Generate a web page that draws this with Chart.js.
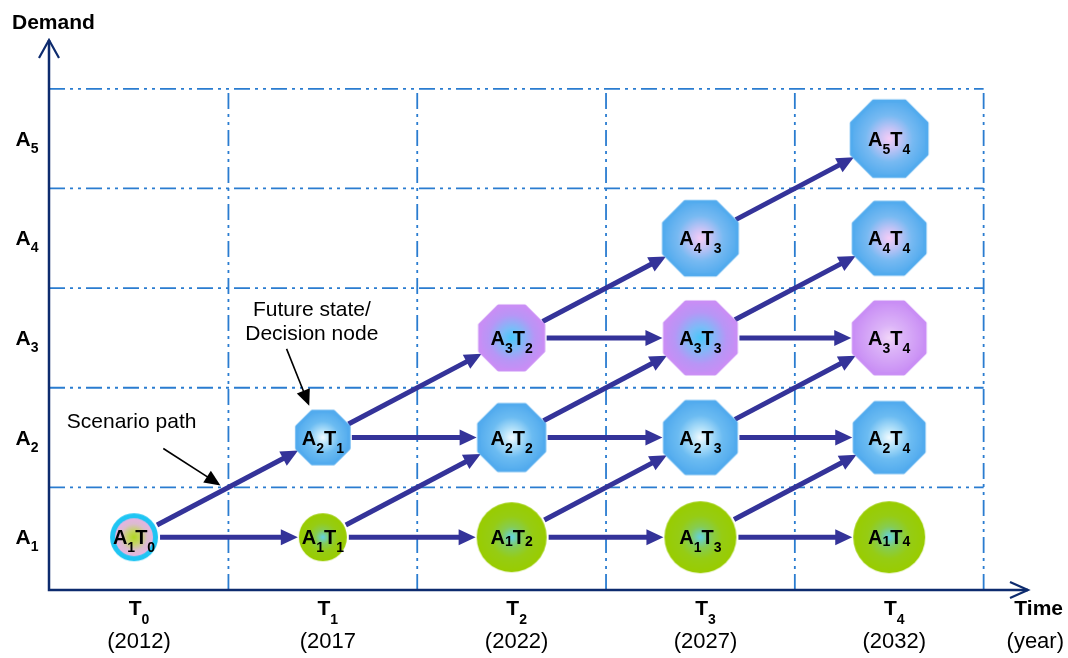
<!DOCTYPE html>
<html>
<head>
<meta charset="utf-8">
<script src="https://cdn.jsdelivr.net/npm/chart.js@4"></script>
<style>html,body{margin:0;background:#fff}</style>
</head>
<body>
<canvas id="tree" width="1068" height="658"></canvas>
<script>
// time stages and demand levels
const stages = ['T0', 'T1', 'T2', 'T3', 'T4'];
const years = ['(2012)', '(2017', '(2022)', '(2027)', '(2032)'];
const levels = ['A1', 'A2', 'A3', 'A4', 'A5'];

// decision nodes: stage index and demand level
const nodeStage = [0, 1, 1, 2, 2, 2, 3, 3, 3, 3, 4, 4, 4, 4, 4];
const nodeLevel = [1, 1, 2, 1, 2, 3, 1, 2, 3, 4, 1, 2, 3, 4, 5];

// scenario paths (node index -> node index)
const pathFrom = [0, 0, 1, 1, 2, 2, 3, 3, 4, 4, 5, 5, 6, 6, 7, 7, 8, 8, 9];
const pathTo   = [1, 2, 3, 4, 4, 5, 6, 7, 7, 8, 8, 9, 10, 11, 11, 12, 12, 13, 14];

// cell boundaries of the grid
const stageEdges = [0.5, 1.5, 2.5, 3.5, 4.5];
const levelEdges = [1.5, 2.5, 3.5, 4.5, 5.5];

// look of the nodes
const nodeKind = ['ring', 'green', 'blue', 'green', 'blue', 'purple', 'green', 'blue', 'purple', 'pink', 'green', 'blue', 'lilac', 'pink', 'pink'];
const nodeSize = [24, 24, 27, 35, 34, 33, 36, 37, 37, 38, 36, 36, 37, 37, 39];
const nodeDrop = [8, 8, 8, 2, 8, 8, 8, 8, 8, 8, 2, 8, 8, 8, 8];

const FONT = '"Liberation Sans", Arial, sans-serif';

function makeNode(kind, r) {
  const s = Math.ceil(r * 2 + 8);
  const c = document.createElement('canvas');
  c.width = c.height = s;
  const g = c.getContext('2d');
  const m = s / 2;
  const shape = (rad) => {
    g.beginPath();
    if (kind == 'ring' || kind == 'green') {
      g.arc(m, m, rad, 0, Math.PI * 2);
    } else {
      const vr = rad * 1.05;
      for (let k = 0; k < 8; k++) {
        const a = -Math.PI / 2 + Math.PI / 8 + k * Math.PI / 4;
        const px = m + vr * Math.cos(a), py = m + vr * Math.sin(a);
        k ? g.lineTo(px, py) : g.moveTo(px, py);
      }
      g.closePath();
    }
  };
  const grad = (stops, rad) => {
    const gr = g.createRadialGradient(m, m, 0, m, m, rad);
    stops.forEach(st => gr.addColorStop(st[0], st[1]));
    return gr;
  };
  g.lineJoin = 'round';
  if (kind == 'ring') {
    shape(r);
    g.fillStyle = '#1fc5f3';
    g.fill();
    shape(r - 5);
    g.fillStyle = grad([[0, '#b0d820'], [0.35, '#c6d468'], [0.7, '#dcbcd0'], [1, '#e6b4e2']], r - 5);
    g.fill();
  } else if (kind == 'green') {
    shape(r);
    g.fillStyle = grad([[0, '#62d2e6'], [0.3, '#86cc52'], [0.6, '#96cc14'], [1, '#99cc00']], r);
    g.fill();
  } else {
    const stops = {
      blue: [[0, '#f2fbff'], [0.25, '#b4e2fa'], [0.6, '#6cbcf2'], [1, '#52abee']],
      pink: [[0, '#f6cdf6'], [0.25, '#c8c4f6'], [0.6, '#78baf2'], [1, '#52abee']],
      purple: [[0, '#48c6fa'], [0.3, '#7cbcf8'], [0.7, '#b896f6'], [1, '#c98ef5']],
      lilac: [[0, '#f2d6f8'], [0.35, '#dcb4f8'], [1, '#c98ef5']],
    }[kind];
    shape(r);
    g.fillStyle = grad(stops, r);
    g.strokeStyle = stops[stops.length - 1][1];
    g.lineWidth = 3;
    g.fill();
    g.stroke();
  }
  return c;
}

// text with subscripts, centred on x
function subText(ctx, parts, x, y, big, small, drop) {
  let w = 0;
  parts.forEach(p => {
    ctx.font = big; w += ctx.measureText(p[0]).width;
    ctx.font = small; w += ctx.measureText(p[1]).width;
  });
  let cx = x - w / 2;
  ctx.textAlign = 'left';
  ctx.textBaseline = 'alphabetic';
  parts.forEach(p => {
    ctx.font = big; ctx.fillText(p[0], cx, y); cx += ctx.measureText(p[0]).width;
    ctx.font = small; ctx.fillText(p[1], cx, y + drop); cx += ctx.measureText(p[1]).width;
  });
}

function arrowHead(ctx, x, y, ux, uy, len, half) {
  ctx.beginPath();
  ctx.moveTo(x, y);
  ctx.lineTo(x - ux * len - uy * half, y - uy * len + ux * half);
  ctx.lineTo(x - ux * len + uy * half, y - uy * len - ux * half);
  ctx.closePath();
  ctx.fill();
}

function pointer(ctx, x1, y1, x2, y2, color, width, len, half) {
  const dx = x2 - x1, dy = y2 - y1, d = Math.hypot(dx, dy);
  const ux = dx / d, uy = dy / d;
  ctx.strokeStyle = color;
  ctx.fillStyle = color;
  ctx.lineWidth = width;
  ctx.beginPath();
  ctx.moveTo(x1, y1);
  ctx.lineTo(x2 - ux * len * 0.8, y2 - uy * len * 0.8);
  ctx.stroke();
  arrowHead(ctx, x2, y2, ux, uy, len, half);
}

const treePlugin = {
  id: 'tree',
  beforeDatasetsDraw(chart) {
    const ctx = chart.ctx, xs = chart.scales.x, ys = chart.scales.y;
    const px = v => xs.getPixelForValue(v), py = v => ys.getPixelForValue(v);
    ctx.save();
    // dash-dot-dot grid
    ctx.strokeStyle = '#2a7cd0';
    ctx.lineWidth = 1.8;
    ctx.setLineDash([16, 5, 3, 5, 3, 5]);
    const gTop = py(levelEdges[levelEdges.length - 1]);
    const gRight = px(stageEdges[stageEdges.length - 1]);
    stageEdges.forEach(v => {
      ctx.beginPath(); ctx.moveTo(px(v), ys.bottom); ctx.lineTo(px(v), gTop); ctx.stroke();
    });
    levelEdges.forEach(v => {
      ctx.beginPath(); ctx.moveTo(xs.left, py(v)); ctx.lineTo(gRight, py(v)); ctx.stroke();
    });
    ctx.setLineDash([]);
    // axes with open arrowheads
    ctx.strokeStyle = '#0d2b6e';
    ctx.lineWidth = 2.5;
    ctx.beginPath();
    ctx.moveTo(xs.left, ys.top); ctx.lineTo(xs.left, ys.bottom); ctx.lineTo(xs.right, ys.bottom);
    ctx.stroke();
    ctx.lineWidth = 2.2;
    ctx.beginPath();
    ctx.moveTo(xs.left - 10, ys.top + 18); ctx.lineTo(xs.left, ys.top); ctx.lineTo(xs.left + 10, ys.top + 18);
    ctx.moveTo(xs.right - 18, ys.bottom - 8); ctx.lineTo(xs.right, ys.bottom); ctx.lineTo(xs.right - 18, ys.bottom + 8);
    ctx.stroke();
    // scenario paths
    pathFrom.forEach((a, k) => {
      const b = pathTo[k];
      const x1 = px(nodeStage[a]), y1 = py(nodeLevel[a]);
      const x2 = px(nodeStage[b]), y2 = py(nodeLevel[b]);
      const d = Math.hypot(x2 - x1, y2 - y1), ux = (x2 - x1) / d, uy = (y2 - y1) / d;
      pointer(ctx,
        x1 + ux * (nodeSize[a] + 2), y1 + uy * (nodeSize[a] + 2),
        x2 - ux * (nodeSize[b] + 1), y2 - uy * (nodeSize[b] + 1),
        '#343399', 5, 17, 8);
    });
    // annotation pointers
    pointer(ctx, px(0.155), py(1.89), px(0.458), py(1.52), '#000', 1.6, 16, 7);
    pointer(ctx, px(0.808), py(2.89), px(0.928), py(2.32), '#000', 1.6, 16, 7);
    ctx.restore();
  },
  afterDatasetsDraw(chart) {
    const ctx = chart.ctx, xs = chart.scales.x, ys = chart.scales.y;
    const px = v => xs.getPixelForValue(v), py = v => ys.getPixelForValue(v);
    ctx.save();
    ctx.fillStyle = '#000';
    // node labels
    nodeStage.forEach((t, i) => {
      subText(ctx, [['A', String(nodeLevel[i])], ['T', String(t)]],
        px(t), py(nodeLevel[i]) + 7, 'bold 20px ' + FONT, 'bold 14px ' + FONT, nodeDrop[i]);
    });
    // stage ticks
    stages.forEach((s, i) => {
      subText(ctx, [[s[0], s.slice(1)]], px(i) + 5, ys.bottom + 25, 'bold 21px ' + FONT, 'bold 14px ' + FONT, 9);
      ctx.font = '22px ' + FONT;
      ctx.textAlign = 'center';
      ctx.fillText(years[i], px(i) + 5, ys.bottom + 58);
    });
    // level ticks
    levels.forEach((l, i) => {
      subText(ctx, [[l[0], l.slice(1)]], 27, py(i + 1) + 7, 'bold 21px ' + FONT, 'bold 14px ' + FONT, 7);
    });
    // axis titles
    ctx.font = 'bold 21px ' + FONT;
    ctx.textAlign = 'left';
    ctx.fillText('Demand', 12, 29);
    ctx.textAlign = 'right';
    ctx.fillText('Time', 1063, ys.bottom + 25);
    ctx.font = '22px ' + FONT;
    ctx.fillText('(year)', 1064, ys.bottom + 58);
    // annotations
    ctx.font = '21px ' + FONT;
    ctx.textAlign = 'left';
    ctx.fillText('Scenario path', px(-0.356), py(2.10));
    ctx.fillText('Future state/', px(0.630), py(3.22));
    ctx.fillText('Decision node', px(0.589), py(2.98));
    ctx.restore();
  }
};

new Chart('tree', {
  type: 'scatter',
  data: {
    datasets: [{
      data: nodeStage.map((t, i) => ({x: t, y: nodeLevel[i]})),
      pointStyle: nodeKind.map((k, i) => makeNode(k, nodeSize[i])),
      pointRadius: nodeSize,
      clip: false,
    }],
  },
  options: {
    responsive: false,
    devicePixelRatio: 1,
    animation: false,
    events: [],
    layout: {padding: {left: 49, top: 38, right: 26, bottom: 68}},
    scales: {
      x: {type: 'linear', display: false, min: -0.4504, max: 4.735},
      y: {type: 'linear', display: false, min: 0.47, max: 5.99},
    },
    plugins: {legend: {display: false}, tooltip: {enabled: false}},
  },
  plugins: [treePlugin],
});
</script>
</body>
</html>
